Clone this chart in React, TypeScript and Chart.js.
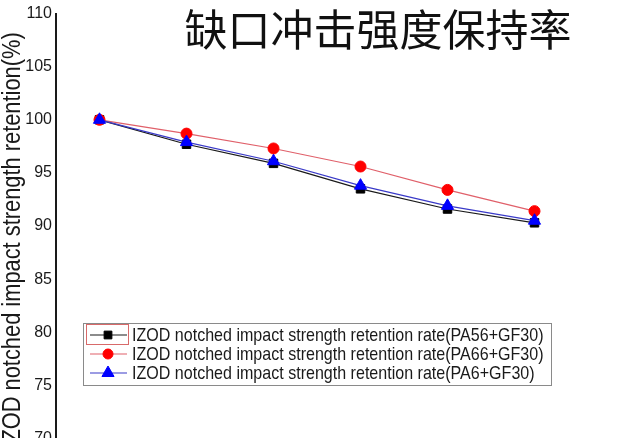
import { useEffect, useRef } from 'react';
import { Chart, registerables } from 'chart.js';
import { drawPoint } from 'chart.js/helpers';

Chart.register(...registerables);

const TITLE = '缺口冲击强度保持率';
const Y_TITLE = 'IZOD notched impact strength retention(%)';
const X_LABELS = ['0', '1', '2', '3', '4', '5'];
const Y_MIN = 70;
const Y_MAX = 110;
const Y_STEP = 5;

const SERIES_LABELS = [
  'IZOD notched impact strength retention rate(PA56+GF30)',
  'IZOD notched impact strength retention rate(PA66+GF30)',
  'IZOD notched impact strength retention rate(PA6+GF30)',
];
const PA56_GF30 = [100, 97.7, 95.9, 93.5, 91.6, 90.3];
const PA66_GF30 = [100, 98.7, 97.3, 95.6, 93.4, 91.4];
const PA6_GF30 = [100, 97.9, 96.1, 93.8, 91.9, 90.5];

const SANS = '"Liberation Sans", Arial, sans-serif';
const CJK = '"Noto Sans CJK SC", sans-serif';

const overlayPlugin = {
  id: 'overlay',
  afterDraw(chart: any) {
    const ctx = chart.ctx as CanvasRenderingContext2D;
    const area = chart.chartArea;
    ctx.save();
    // Title
    ctx.fillStyle = '#111';
    ctx.textAlign = 'center';
    ctx.textBaseline = 'middle';
    ctx.font = `43px ${CJK}`;
    ctx.fillText(TITLE, 378, 30);

    // Y-axis title (condensed along text direction)
    ctx.save();
    ctx.translate(13, (area.top + area.bottom) / 2 + 14.5);
    ctx.rotate(-Math.PI / 2);
    ctx.scale(0.84, 1);
    ctx.font = `26px ${SANS}`;
    ctx.fillStyle = '#1a1a1a';
    ctx.fillText(Y_TITLE, 0, 0);
    ctx.restore();

    // Legend box
    const bx = 83, by = 323, bw = 468, bh = 62;
    ctx.strokeStyle = '#8a8a8a';
    ctx.lineWidth = 1;
    ctx.strokeRect(bx + 0.5, by + 0.5, bw, bh);
    // selection highlight around first sample
    ctx.strokeStyle = '#d86a6a';
    ctx.strokeRect(86.5, 324.5, 42, 20);

    const rowY = [335, 354, 373];
    chart.data.datasets.forEach((ds: any, i: number) => {
      const y = rowY[i];
      ctx.beginPath();
      ctx.strokeStyle = ds.borderColor;
      ctx.lineWidth = 1.2;
      ctx.moveTo(90, y);
      ctx.lineTo(127, y);
      ctx.stroke();
      ctx.fillStyle = ds.pointBackgroundColor;
      ctx.strokeStyle = ds.pointBorderColor;
      ctx.lineWidth = 1;
      drawPoint(ctx, { pointStyle: ds.pointStyle, radius: ds.legendRadius, rotation: 0, borderWidth: 1 }, 108, y);
      ctx.save();
      ctx.translate(132, y + 1);
      ctx.scale(0.845, 1);
      ctx.fillStyle = '#1a1a1a';
      ctx.textAlign = 'left';
      ctx.textBaseline = 'middle';
      ctx.font = `19px ${SANS}`;
      ctx.fillText(ds.label, 0, 0);
      ctx.restore();
    });
    ctx.restore();
  },
};

export default function App() {
  const ref = useRef<HTMLCanvasElement>(null);
  useEffect(() => {
    if (!ref.current) return;
    const chart = new Chart(ref.current, {
      type: 'line',
      data: {
        labels: X_LABELS,
        datasets: [
          {
            label: SERIES_LABELS[0],
            data: PA56_GF30,
            borderColor: '#1a1a1a',
            borderWidth: 1.2,
            pointStyle: 'rect',
            pointRadius: 6,
            pointBackgroundColor: '#000000',
            pointBorderColor: '#000000',
            pointBorderWidth: 1,
            order: 2,
            legendRadius: 5.5,
          } as any,
          {
            label: SERIES_LABELS[1],
            data: PA66_GF30,
            borderColor: '#e0606a',
            borderWidth: 1.2,
            pointStyle: 'circle',
            pointRadius: 5.5,
            pointBackgroundColor: '#ff0000',
            pointBorderColor: '#ff0000',
            pointBorderWidth: 1,
            order: 1,
            legendRadius: 5,
          } as any,
          {
            label: SERIES_LABELS[2],
            data: PA6_GF30,
            borderColor: '#3a3ac8',
            borderWidth: 1.2,
            pointStyle: 'triangle',
            pointRadius: 7,
            pointBackgroundColor: '#0000ff',
            pointBorderColor: '#0000ff',
            pointBorderWidth: 1,
            order: 0,
            legendRadius: 7,
          } as any,
        ],
      },
      options: {
        animation: false,
        responsive: true,
        maintainAspectRatio: false,
        layout: { padding: { top: 12, bottom: 0, left: 0, right: 62 } },
        plugins: {
          legend: { display: false },
          title: { display: false },
          tooltip: { enabled: false },
        },
        scales: {
          x: {
            type: 'category',
            offset: true,
            display: false,
          },
          y: {
            min: Y_MIN,
            max: Y_MAX,
            grid: { display: false, drawTicks: false },
            border: { display: true, color: '#1a1a1a', width: 2 },
            ticks: {
              stepSize: Y_STEP,
              padding: 4,
              color: '#1a1a1a',
              font: { family: SANS, size: 16 },
            },
            afterFit(scale: any) {
              scale.width = 56;
            },
          },
        },
      },
      plugins: [overlayPlugin],
    });
    return () => chart.destroy();
  }, []);
  return (
    <div style={{ position: 'fixed', left: 0, top: 0, width: 640, height: 438, overflow: 'hidden', background: '#fff' }}>
      <div style={{ position: 'relative', width: 640, height: 452 }}>
        <canvas ref={ref} />
      </div>
    </div>
  );
}
